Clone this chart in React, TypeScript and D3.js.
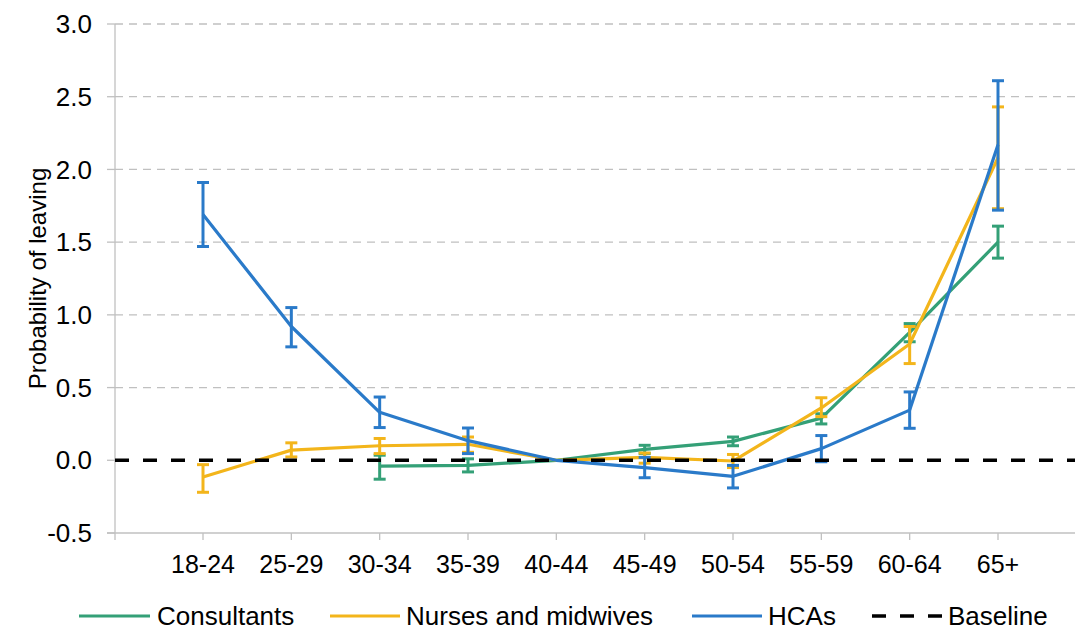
import React from "react";
import * as d3 from "d3";

const categories = ["18-24", "25-29", "30-34", "35-39", "40-44", "45-49", "50-54", "55-59", "60-64", "65+"];

// value, lower, upper (null = no data)
const consultants: (number | null)[] = [null, null, -0.04, -0.035, 0, 0.075, 0.13, 0.29, 0.88, 1.5];
const consultantsLow: (number | null)[] = [null, null, -0.13, -0.08, 0, 0.047, 0.1, 0.25, 0.815, 1.39];
const consultantsHigh: (number | null)[] = [null, null, 0.035, 0.01, 0, 0.103, 0.16, 0.32, 0.94, 1.61];

const nurses: (number | null)[] = [-0.115, 0.07, 0.1, 0.11, 0, 0.02, -0.005, 0.36, 0.8, 2.08];
const nursesLow: (number | null)[] = [-0.22, 0.023, 0.046, 0.055, 0, -0.02, -0.05, 0.3, 0.665, 1.73];
const nursesHigh: (number | null)[] = [-0.03, 0.12, 0.15, 0.16, 0, 0.05, 0.04, 0.43, 0.92, 2.43];

const hcas: (number | null)[] = [1.69, 0.92, 0.33, 0.135, 0, -0.05, -0.11, 0.08, 0.345, 2.17];
const hcasLow: (number | null)[] = [1.47, 0.78, 0.225, 0.046, 0, -0.12, -0.19, -0.01, 0.22, 1.72];
const hcasHigh: (number | null)[] = [1.91, 1.05, 0.435, 0.222, 0, 0.02, -0.035, 0.17, 0.47, 2.61];

const yTicks = [-0.5, 0, 0.5, 1, 1.5, 2, 2.5, 3];

const seriesNames = ["Consultants", "Nurses and midwives", "HCAs"];
const seriesColors = ["#34A077", "#F3B51B", "#2A7AC9"];

const FONT = "'Liberation Sans', Arial, sans-serif";
const fmt = (t: number) => d3.format(".1f")(t).replace("\u2212", "-");

export default function App() {
  const W = 1080, H = 630;
  const axisLeft = 115, axisRight = 1075;
  const x = d3.scalePoint<string>().domain(categories).range([203, 998]);
  const y = d3.scaleLinear().domain([-0.5, 3]).range([533, 24]);

  const series = [
    { name: seriesNames[0], color: seriesColors[0], v: consultants, lo: consultantsLow, hi: consultantsHigh },
    { name: seriesNames[1], color: seriesColors[1], v: nurses, lo: nursesLow, hi: nursesHigh },
    { name: seriesNames[2], color: seriesColors[2], v: hcas, lo: hcasLow, hi: hcasHigh },
  ];

  const line = d3
    .line<number | null>()
    .defined((d) => d !== null)
    .x((_, i) => x(categories[i]) as number)
    .y((d) => y(d as number));

  const legendY = 616;
  const legendItems = [
    { label: "Consultants", color: seriesColors[0], x0: 79, x1: 150, tx: 157, dash: false },
    { label: "Nurses and midwives", color: seriesColors[1], x0: 330, x1: 400, tx: 406, dash: false },
    { label: "HCAs", color: seriesColors[2], x0: 692, x1: 762, tx: 768, dash: false },
    { label: "Baseline", color: "#000", x0: 872, x1: 942, tx: 948, dash: true },
  ];

  return (
    <svg width={W} height={H} style={{ position: "absolute", left: 0, top: 0, background: "#fff" }} fontFamily={FONT}>
      <rect width={W} height={H} fill="#fff" />
      {/* gridlines */}
      {yTicks.filter((t) => t > 0).map((t) => (
        <line key={t} x1={axisLeft} x2={axisRight} y1={y(t)} y2={y(t)} stroke="#c0c0c0" strokeWidth={1.3} strokeDasharray="8,6" />
      ))}
      {/* y axis */}
      <line x1={axisLeft} x2={axisLeft} y1={y(3)} y2={y(-0.5) + 7} stroke="#c0c0c0" strokeWidth={1.3} />
      {yTicks.map((t) => (
        <g key={t}>
          <line x1={axisLeft - 8} x2={axisLeft} y1={y(t)} y2={y(t)} stroke="#c0c0c0" strokeWidth={1.3} />
          <text x={92} y={y(t)} dy="0.35em" textAnchor="end" fontSize={26} fill="#000">
            {fmt(t)}
          </text>
        </g>
      ))}
      {/* x axis */}
      <line x1={axisLeft - 8} x2={axisRight} y1={y(-0.5)} y2={y(-0.5)} stroke="#c0c0c0" strokeWidth={1.3} />
      {categories.map((c) => (
        <g key={c}>
          <line x1={x(c)} x2={x(c)} y1={y(-0.5)} y2={y(-0.5) + 7} stroke="#c0c0c0" strokeWidth={1.3} />
          <text x={x(c)} y={573} textAnchor="middle" fontSize={25} fill="#000">
            {c}
          </text>
        </g>
      ))}
      <text transform={`translate(46,${(y(3) + y(-0.5)) / 2}) rotate(-90)`} textAnchor="middle" fontSize={24} fill="#000">
        Probability of leaving
      </text>

      {/* series */}
      {series.map((s) => (
        <g key={s.name}>
          <path d={line(s.v) || ""} fill="none" stroke={s.color} strokeWidth={3.2} strokeLinejoin="round" />
          {s.v.map((v, i) => {
            if (v === null || s.lo[i] === null || s.hi[i] === null) return null;
            if (s.lo[i] === s.hi[i]) return null;
            const cx = x(categories[i]) as number;
            const y1 = y(s.lo[i] as number), y2 = y(s.hi[i] as number);
            return (
              <g key={i} stroke={s.color} strokeWidth={3}>
                <line x1={cx} x2={cx} y1={y1} y2={y2} />
                <line x1={cx - 6} x2={cx + 6} y1={y1} y2={y1} />
                <line x1={cx - 6} x2={cx + 6} y1={y2} y2={y2} />
              </g>
            );
          })}
        </g>
      ))}
      {/* baseline */}
      <line x1={axisLeft} x2={axisRight} y1={y(0)} y2={y(0)} stroke="#000" strokeWidth={3.5} strokeDasharray="14,14" />

      {/* legend */}
      {legendItems.map((l) => (
        <g key={l.label}>
          <line x1={l.x0} x2={l.x1} y1={legendY} y2={legendY} stroke={l.color} strokeWidth={l.dash ? 3.5 : 3.2} strokeDasharray={l.dash ? "14,14" : undefined} />
          <text x={l.tx} y={legendY} dy="0.35em" fontSize={26} fill="#000">
            {l.label}
          </text>
        </g>
      ))}
    </svg>
  );
}
